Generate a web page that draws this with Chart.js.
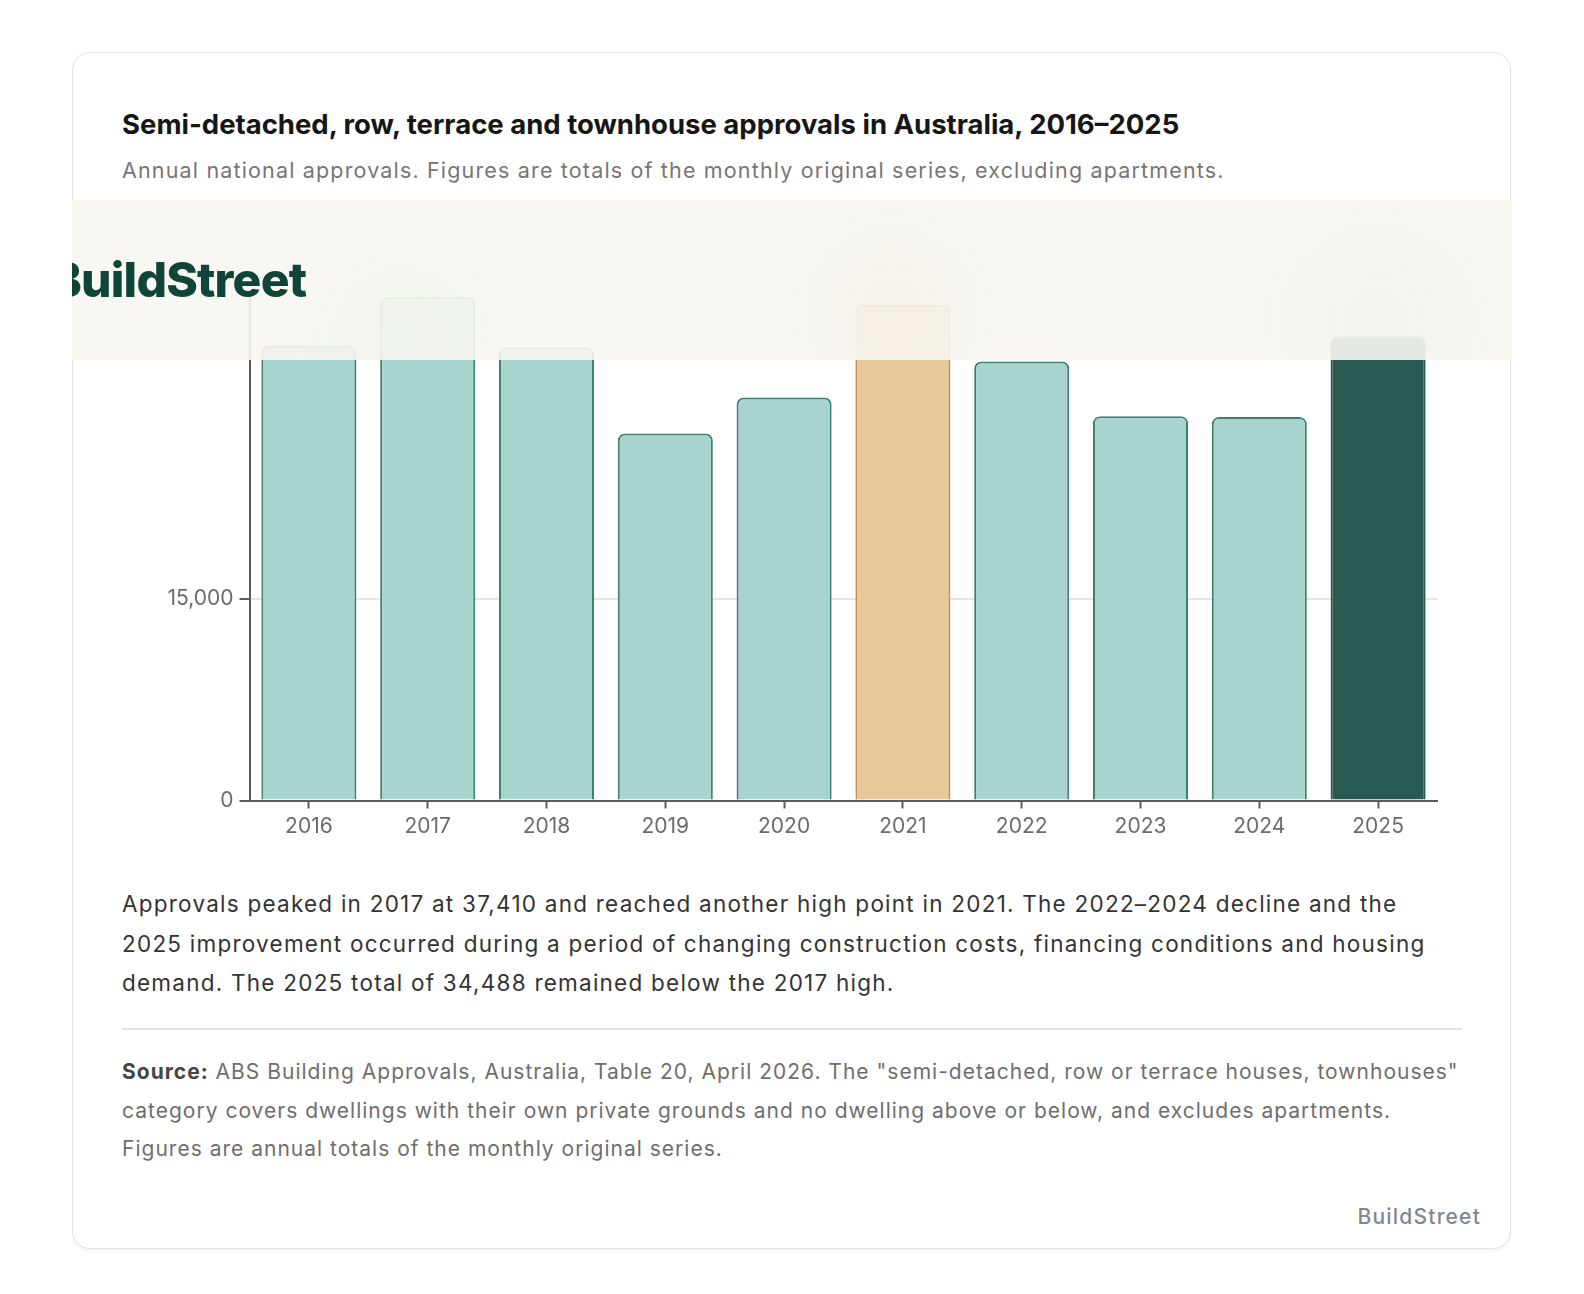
<!DOCTYPE html>
<html>
<head>
<meta charset="utf-8">
<script src="https://cdn.jsdelivr.net/npm/chart.js@4/dist/chart.umd.min.js"></script>
<style>
  body {
    margin: 0;
    background: #ffffff;
    font-family: Inter, "Noto Sans", sans-serif;
  }
  .card {
    position: absolute;
    left: 72px;
    top: 52px;
    width: 1437px;
    height: 1195px;
    border: 1.5px solid #e3e3de;
    border-radius: 18px;
    box-shadow: 0 2px 3px rgba(0, 0, 0, 0.05);
    background: #fff;
  }
  .title {
    position: absolute;
    left: 122px;
    top: 107px;
    font-size: 27.5px;
    font-weight: 700;
    color: #161616;
    letter-spacing: 0;
    white-space: nowrap;
  }
  .subtitle {
    position: absolute;
    left: 122px;
    top: 157px;
    font-size: 21.5px;
    letter-spacing: 0.054em;
    color: #767676;
    white-space: nowrap;
  }
  .chart-box {
    position: absolute;
    left: 122px;
    top: 220px;
    width: 1340px;
    height: 620px;
  }
  .overlay {
    position: absolute;
    left: 72px;
    top: 200px;
    width: 1440px;
    height: 160px;
    overflow: hidden;
    background:
      radial-gradient(circle at 330px 140px, rgba(235, 238, 234, 0.35), rgba(235, 238, 234, 0) 120px),
      radial-gradient(circle at 820px 110px, rgba(240, 232, 220, 0.35), rgba(240, 232, 220, 0) 120px),
      radial-gradient(circle at 1305px 120px, rgba(232, 235, 232, 0.4), rgba(232, 235, 232, 0) 130px),
      rgba(247, 246, 241, 0.9);
  }
  .overlay .logo {
    position: absolute;
    left: -22px;
    top: 56px;
    font-size: 48px;
    line-height: 48px;
    font-weight: 800;
    letter-spacing: -0.8px;
    color: #0e4538;
    white-space: nowrap;
  }
  .note {
    position: absolute;
    left: 122px;
    top: 884px;
    width: 1320px;
    font-size: 22.5px;
    line-height: 39.5px;
    letter-spacing: 0.055em;
    color: #333333;
  }
  .rule {
    position: absolute;
    left: 122px;
    top: 1028px;
    width: 1340px;
    height: 2px;
    background: #e2e2dd;
  }
  .source {
    position: absolute;
    left: 122px;
    top: 1053px;
    width: 1345px;
    font-size: 21px;
    line-height: 38.5px;
    letter-spacing: 0.048em;
    color: #6e6e6e;
  }
  .source b {
    color: #454545;
    font-weight: 700;
  }
  .brand {
    position: absolute;
    right: 103px;
    top: 1204px;
    font-size: 21px;
    font-weight: 500;
    letter-spacing: 1.2px;
    color: #7f8693;
  }
</style>
</head>
<body>
<div class="card"></div>
<div class="title">Semi-detached, row, terrace and townhouse approvals in Australia, 2016–2025</div>
<div class="subtitle">Annual national approvals. Figures are totals of the monthly original series, excluding apartments.</div>
<div class="chart-box"><canvas id="approvalsChart"></canvas></div>
<div class="overlay"><div class="logo">BuildStreet</div></div>
<div class="note">Approvals peaked in 2017 at 37,410 and reached another high point in 2021. The 2022–2024 decline and the 2025 improvement occurred during a period of changing construction costs, financing conditions and housing demand. The 2025 total of 34,488 remained below the 2017 high.</div>
<div class="rule"></div>
<div class="source"><b>Source:</b> ABS Building Approvals, Australia, Table 20, April 2026. The "semi-detached, row or terrace houses, townhouses" category covers dwellings with their own private grounds and no dwelling above or below, and excludes apartments. Figures are annual totals of the monthly original series.</div>
<div class="brand">BuildStreet</div>

<script>
const years = ["2016", "2017", "2018", "2019", "2020", "2021", "2022", "2023", "2024", "2025"];
const approvals = [33800, 37410, 33680, 27280, 29950, 36830, 32630, 28570, 28500, 34488];
const yTicks = [0, 15000];
const yMax = 37500;

const highlightYear = "2021";
const latestYear = "2025";

function fillFor(year) {
  if (year === latestYear) return "#285a52";
  if (year === highlightYear) return "#e6c999";
  return "#a8d4ce";
}

function borderFor(year) {
  if (year === latestYear) return "#285a52";
  if (year === highlightYear) return "#c48a55";
  return "#3d7f70";
}

const axisColor = "#5c5c5c";
const labelFont = { family: "Inter", size: 21 };

new Chart(document.getElementById("approvalsChart").getContext("2d"), {
  type: "bar",
  data: {
    labels: years,
    datasets: [
      {
        label: "Approvals",
        data: approvals,
        backgroundColor: years.map(fillFor),
        borderColor: years.map(borderFor),
        borderWidth: 2,
        borderSkipped: "start",
        borderRadius: { topLeft: 7, topRight: 7 },
        barPercentage: 1,
        categoryPercentage: 0.8,
      },
    ],
  },
  options: {
    responsive: true,
    maintainAspectRatio: false,
    animation: false,
    layout: {
      padding: { top: 76, right: 24.5, bottom: 0, left: 0 },
    },
    plugins: {
      legend: { display: false },
      tooltip: { enabled: false },
    },
    scales: {
      x: {
        afterFit: (scale) => {
          scale.height = 39.5;
        },
        grid: {
          drawOnChartArea: false,
          offset: false,
          tickLength: 8,
          tickColor: axisColor,
          tickWidth: 2,
        },
        border: { display: true, color: axisColor, width: 2 },
        ticks: {
          color: "#6b6b6b",
          font: labelFont,
          padding: 6,
          maxRotation: 0,
        },
      },
      y: {
        min: 0,
        max: yMax,
        afterFit: (scale) => {
          scale.width = 127.5;
        },
        afterBuildTicks: (scale) => {
          scale.ticks = yTicks.map((v) => ({ value: v }));
        },
        grid: {
          color: "#e6e5e0",
          lineWidth: 2,
          tickLength: 10,
          tickColor: axisColor,
          tickWidth: 2,
        },
        border: { display: true, color: axisColor, width: 2 },
        ticks: {
          color: "#6b6b6b",
          font: labelFont,
          padding: 6,
        },
      },
    },
  },
});
</script>
</body>
</html>
